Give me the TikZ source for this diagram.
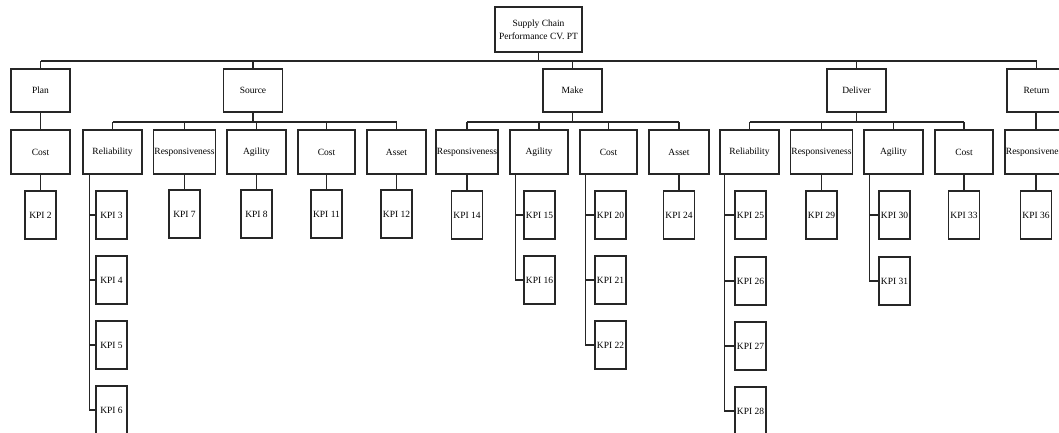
\documentclass[tikz,border=0pt]{standalone}
\usepackage{fontspec}
\setmainfont{Liberation Serif}
\begin{document}
\begin{tikzpicture}[x=1pt,y=-1pt,
  box/.style={draw=black!85,line width=1.1pt,inner sep=0pt,align=center,font=\fontsize{9.5}{13}\selectfont},
  lone/.style={box,minimum width=59pt,minimum height=43pt},
  ltwo/.style={box,minimum width=59pt,minimum height=44pt},
  lwide/.style={box,minimum width=62pt,minimum height=44pt},
  kpi/.style={box,minimum width=31pt,minimum height=48pt},
  link/.style={draw=black!85,line width=1.1pt}]
\useasboundingbox (0,0) rectangle (1059,433);
\clip (0,0) rectangle (1059,433);
% root
\node[box,minimum width=87pt,minimum height=45pt] (top) at (538.5,29.5) {Supply Chain\\Performance CV. PT};
% level 1
\node[lone] (plan) at (40.5,90.5) {Plan};
\node[lone] (source) at (253,90.5) {Source};
\node[lone] (make) at (572.5,90.5) {Make};
\node[lone] (deliver) at (856.5,90.5) {Deliver};
\node[lone] (ret) at (1036.5,90.5) {Return};
% level 2
\node[ltwo] (pcost) at (40.5,152) {Cost};
\node[ltwo] (srel) at (112.5,152) {Reliability};
\node[lwide] (sresp) at (184.5,152) {Responsiveness};
\node[ltwo] (sagi) at (256.5,152) {Agility};
\node[box,minimum width=57pt,minimum height=44pt] (scost) at (326.5,152) {Cost};
\node[ltwo] (sasset) at (396.5,152) {Asset};
\node[lwide] (mresp) at (467,152) {Responsiveness};
\node[box,minimum width=58pt,minimum height=44pt] (magi) at (539,152) {Agility};
\node[box,minimum width=57pt,minimum height=44pt] (mcost) at (608.5,152) {Cost};
\node[box,minimum width=60pt,minimum height=44pt] (masset) at (679,152) {Asset};
\node[ltwo] (drel) at (749.5,152) {Reliability};
\node[lwide] (dresp) at (821.5,152) {Responsiveness};
\node[ltwo] (dagi) at (893.5,152) {Agility};
\node[box,minimum width=58pt,minimum height=44pt] (dcost) at (964,152) {Cost};
\node[lwide] (rresp) at (1036,152) {Responsiveness};
% KPIs
\node[kpi] (k2) at (40.5,215) {KPI 2};
\node[kpi] (k3) at (111.5,215) {KPI 3};
\node[kpi] (k4) at (111.5,280) {KPI 4};
\node[kpi] (k5) at (111.5,345) {KPI 5};
\node[kpi] (k6) at (111.5,410) {KPI 6};
\node[kpi] (k7) at (184.5,214) {KPI 7};
\node[kpi] (k8) at (256.5,214) {KPI 8};
\node[kpi] (k11) at (326.5,214) {KPI 11};
\node[kpi] (k12) at (396.5,214) {KPI 12};
\node[kpi] (k14) at (467,215) {KPI 14};
\node[kpi] (k15) at (539.5,215) {KPI 15};
\node[kpi] (k16) at (539.5,280) {KPI 16};
\node[kpi] (k20) at (610.5,215) {KPI 20};
\node[kpi] (k21) at (610.5,280) {KPI 21};
\node[kpi] (k22) at (610.5,345) {KPI 22};
\node[kpi] (k24) at (679,215) {KPI 24};
\node[kpi] (k25) at (750.5,215) {KPI 25};
\node[kpi] (k26) at (750.5,281) {KPI 26};
\node[kpi] (k27) at (750.5,346) {KPI 27};
\node[kpi] (k28) at (750.5,411) {KPI 28};
\node[kpi] (k29) at (821.5,215) {KPI 29};
\node[kpi] (k30) at (894.5,215) {KPI 30};
\node[kpi] (k31) at (894.5,281) {KPI 31};
\node[kpi] (k33) at (964,215) {KPI 33};
\node[kpi] (k36) at (1036,215) {KPI 36};
% buses
\coordinate (b0) at (0,61);
\coordinate (b1) at (0,122);
\draw[link] (top.south) -- (top.south |- b0);
\draw[link] (plan.north |- b0) -- (ret.north |- b0);
\foreach \n in {plan,source,make,deliver,ret}
  \draw[link] (\n.north) -- (\n.north |- b0);
% level 1 -> level 2
\draw[link] (plan.south) -- (pcost.north);
\draw[link] (ret.south) -- (ret.south -| rresp.north) -- (rresp.north);
\draw[link] (source.south) -- (source.south |- b1);
\draw[link] (srel.north |- b1) -- (sasset.north |- b1);
\foreach \n in {srel,sresp,sagi,scost,sasset}
  \draw[link] (\n.north) -- (\n.north |- b1);
\draw[link] (make.south) -- (make.south |- b1);
\draw[link] (mresp.north |- b1) -- (masset.north |- b1);
\foreach \n in {mresp,magi,mcost,masset}
  \draw[link] (\n.north) -- (\n.north |- b1);
\draw[link] (deliver.south) -- (deliver.south |- b1);
\draw[link] (drel.north |- b1) -- (dcost.north |- b1);
\foreach \n in {drel,dresp,dagi,dcost}
  \draw[link] (\n.north) -- (\n.north |- b1);
% level 2 -> single KPI
\draw[link] (pcost.south) -- (k2.north);
\draw[link] (sresp.south) -- (k7.north);
\draw[link] (sagi.south) -- (k8.north);
\draw[link] (scost.south) -- (k11.north);
\draw[link] (sasset.south) -- (k12.north);
\draw[link] (mresp.south) -- (k14.north);
\draw[link] (masset.south) -- (k24.north);
\draw[link] (dresp.south) -- (k29.north);
\draw[link] (dcost.south) -- (k33.north);
\draw[link] (rresp.south) -- (k36.north);
% level 2 -> KPI lists
\coordinate (srelx) at ([xshift=7pt]srel.south west);
\draw[link] (srelx) |- (k6.west);
\foreach \k in {k3,k4,k5} \draw[link] (srelx |- \k.west) -- (\k.west);
\coordinate (magix) at ([xshift=6pt]magi.south west);
\draw[link] (magix) |- (k16.west);
\draw[link] (magix |- k15.west) -- (k15.west);
\coordinate (mcostx) at ([xshift=6pt]mcost.south west);
\draw[link] (mcostx) |- (k22.west);
\foreach \k in {k20,k21} \draw[link] (mcostx |- \k.west) -- (\k.west);
\coordinate (drelx) at ([xshift=5pt]drel.south west);
\draw[link] (drelx) |- (k28.west);
\foreach \k in {k25,k26,k27} \draw[link] (drelx |- \k.west) -- (\k.west);
\coordinate (dagix) at ([xshift=6pt]dagi.south west);
\draw[link] (dagix) |- (k31.west);
\draw[link] (dagix |- k30.west) -- (k30.west);
\end{tikzpicture}
\end{document}
